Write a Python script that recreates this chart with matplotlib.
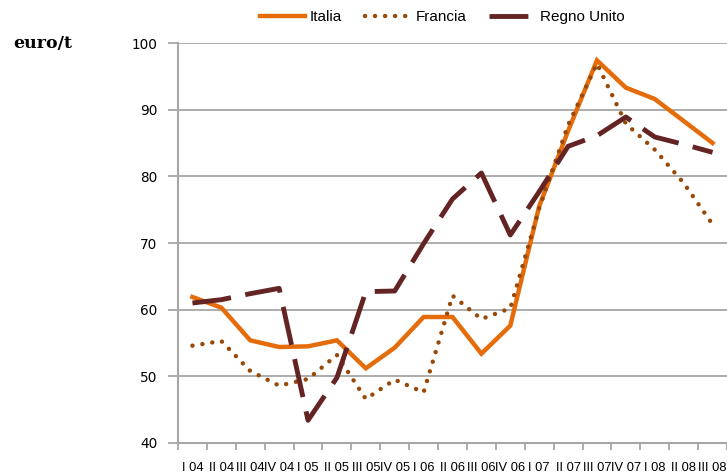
import matplotlib
matplotlib.use("Agg")
import matplotlib.pyplot as plt
from matplotlib.ticker import FixedLocator

quarters = ["I 04", "II 04", "III 04", "IV 04", "I 05", "II 05", "III 05", "IV 05",
            "I 06", "II 06", "III 06", "IV 06", "I 07", "II 07", "III 07", "IV 07",
            "I 08", "II 08", "III 08"]
italia = [61.9, 60.3, 55.4, 54.4, 54.5, 55.4, 51.2, 54.3, 58.9, 58.9,
          53.4, 57.6, 75.5, 86.8, 97.4, 93.3, 91.6, 88.3, 85.0]
francia = [54.6, 55.3, 50.8, 48.6, 49.6, 53.2, 46.6, 49.5, 47.6, 62.1,
           58.6, 60.2, 75.2, 87.7, 96.9, 87.9, 84.0, 79.0, 72.8]
regno_unito = [61.0, 61.5, 62.4, 63.2, 43.4, 49.8, 62.7, 62.8, 69.9, 76.6,
               80.5, 71.2, 77.7, 84.5, 86.1, 88.9, 85.9, 84.8, 83.6]
yticks = [40, 50, 60, 70, 80, 90, 100]

c_ita = "#E46C0A"
c_fra = "#984807"
c_uk = "#632423"
grid_c = "#A6A6A6"

fig = plt.figure(figsize=(7.27, 4.75), dpi=100)
ax = fig.add_axes([178 / 727, 32 / 475, 549 / 727, 400 / 475])

x = list(range(len(quarters)))
ax.plot(x, italia, color=c_ita, lw=3.2, solid_joinstyle="miter", label="Italia", zorder=3)
ax.plot(x, francia, color=c_fra, lw=3.2, linestyle=(0, (0.01, 2.25)),
        dash_capstyle="round", label="Francia", zorder=4)
ax.plot(x, regno_unito, color=c_uk, lw=3.5, linestyle=(0, (8, 3)),
        dash_capstyle="butt", solid_joinstyle="miter", label="Regno Unito", zorder=5)

ax.set_xlim(-0.5, len(quarters) - 0.5)
ax.set_ylim(40, 100)
ax.set_yticks(yticks)
ax.yaxis.grid(True, color=grid_c, lw=1.3)
ax.set_axisbelow(True)

# boundaries get the tick marks, centres get the labels
ax.xaxis.set_major_locator(FixedLocator([i - 0.5 for i in range(len(quarters) + 1)]))
ax.xaxis.set_minor_locator(FixedLocator(x))
ax.set_xticklabels([], minor=False)
ax.set_xticklabels(quarters, minor=True, family="Liberation Sans", fontsize=9.3)
ax.tick_params(axis="x", which="major", length=5, width=1.3, color=grid_c)
ax.tick_params(axis="x", which="minor", length=0, pad=14)
ax.tick_params(axis="y", length=7, width=1.3, color=grid_c, pad=8, labelsize=9.8)

for s in ["top", "right"]:
    ax.spines[s].set_visible(False)
for s in ["left", "bottom"]:
    ax.spines[s].set_color(grid_c)
    ax.spines[s].set_linewidth(1.5)

fig.text(13 / 727, 1 - 43 / 475, "euro/t", family="DejaVu Serif", weight="bold",
         fontsize=12.5, va="center", ha="left")

fig.legend(loc="center", bbox_to_anchor=(442 / 727, 1 - 17 / 475), ncol=3, frameon=False,
           handlelength=3.0, handletextpad=0.3, columnspacing=1.5,
           prop={"family": "Liberation Sans", "size": 11})

fig.savefig("out.png", dpi=100)
